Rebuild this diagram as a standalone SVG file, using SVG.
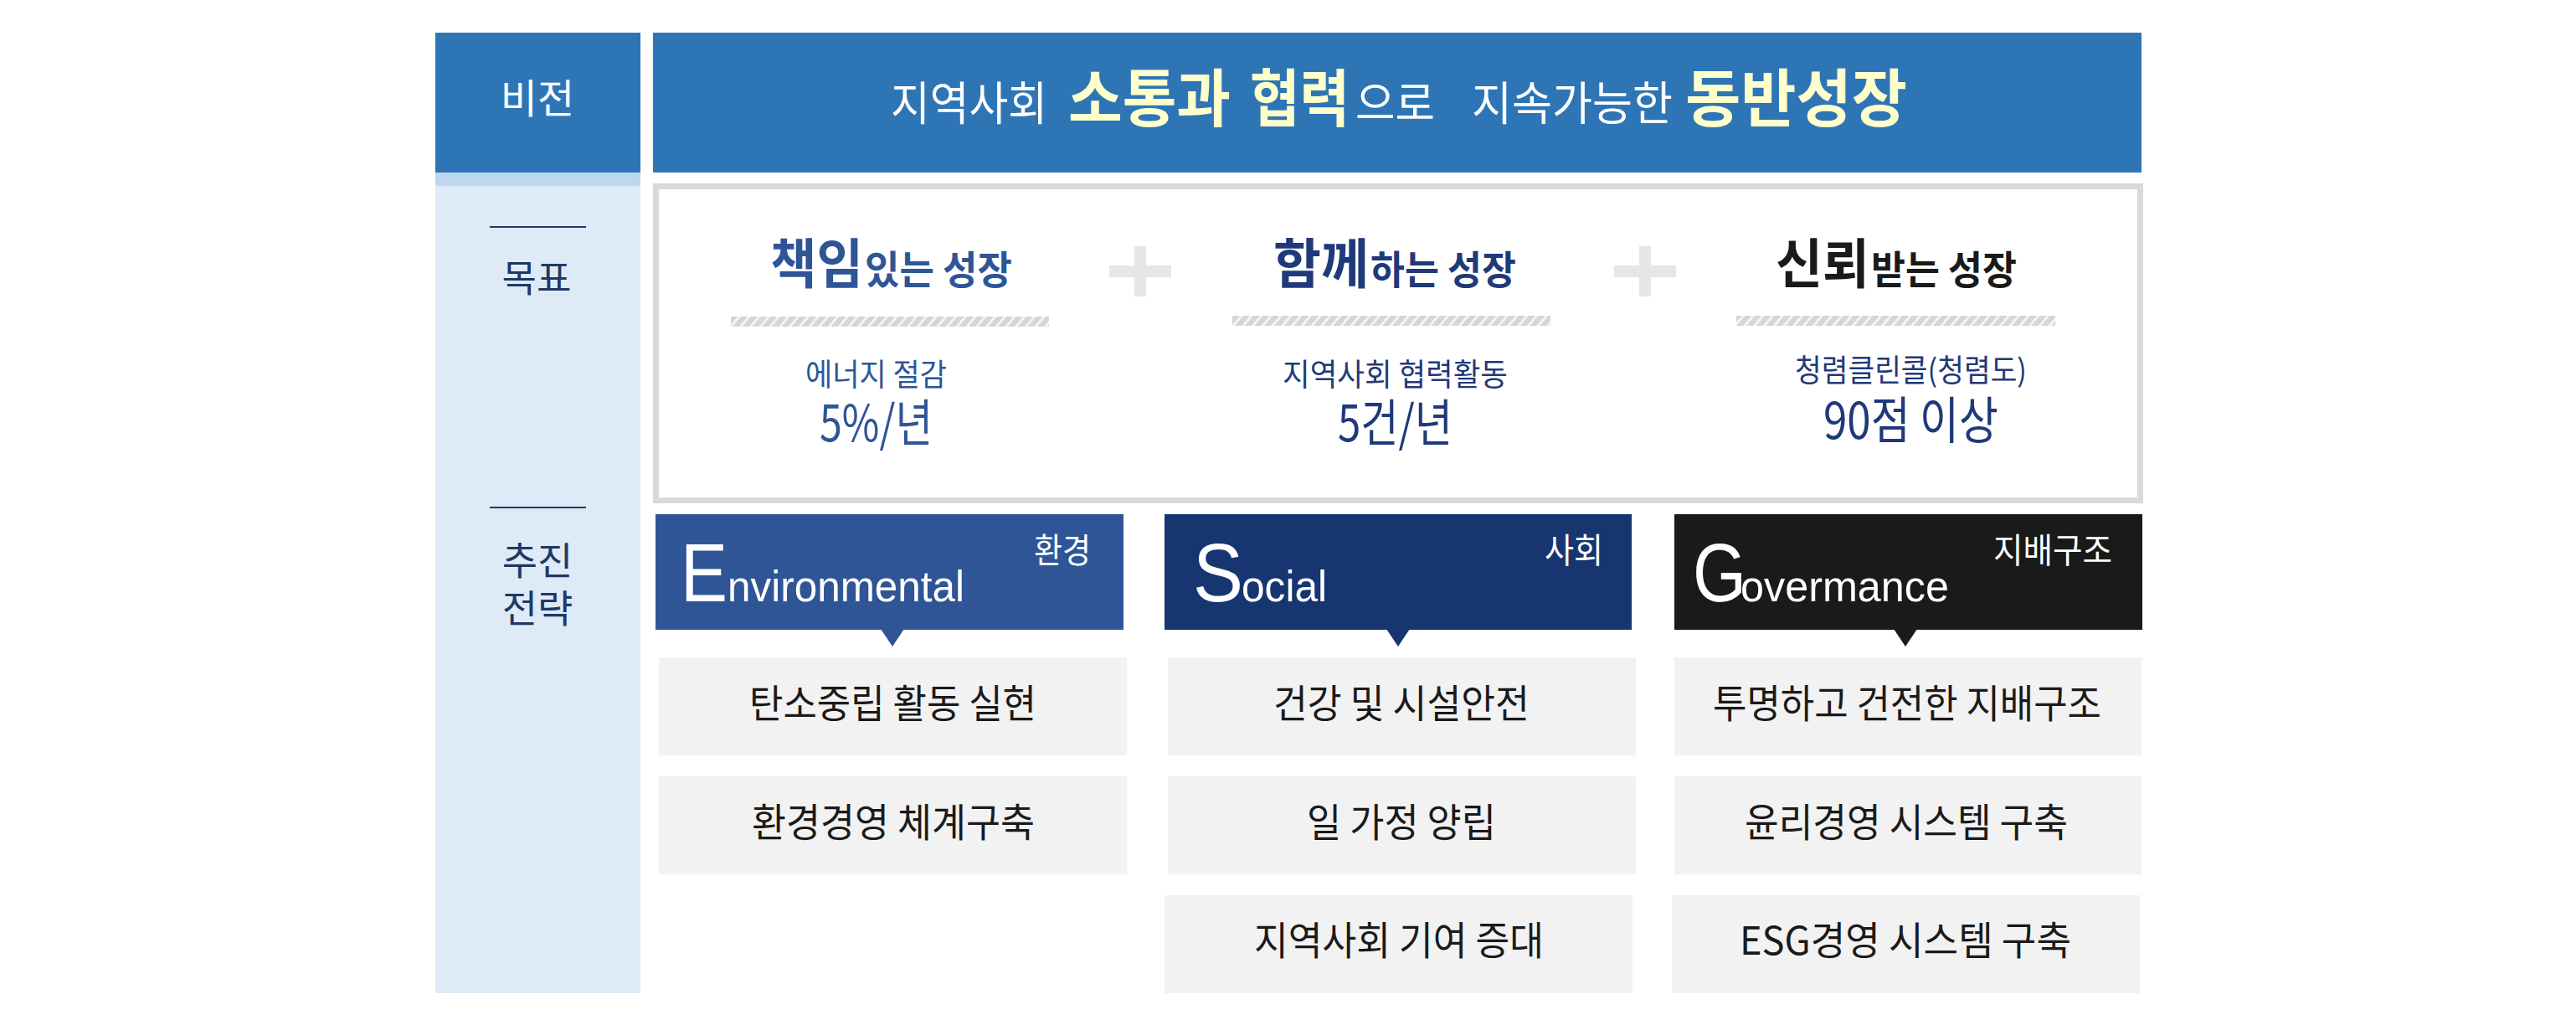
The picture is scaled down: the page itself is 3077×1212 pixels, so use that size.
<svg xmlns="http://www.w3.org/2000/svg" width="3077" height="1212" viewBox="0 0 3077 1212">
<style>
text{font-family:"Noto Sans CJK KR","Noto Sans",sans-serif;}
.lat{font-family:"Liberation Sans",Arial,sans-serif;}
.b{font-weight:700;}
.w{fill:#FFFFFF;}
.y{fill:#FFFFCC;}
.nv{fill:#203864;}
.blue{fill:#2F5597;}
.dnv{fill:#1F3A7A;}
.blk{fill:#1A1A1A;}
.gbox{fill:#F2F2F2;}
.plus{fill:#E6E6E6;}
.row{font-size:47px;fill:#1A1A1A;}
</style>
<defs>
<pattern id="hatch" width="9" height="9" patternUnits="userSpaceOnUse" patternTransform="rotate(40)">
<rect width="9" height="9" fill="#D6D6D6"/>
<rect x="0" y="0" width="3" height="9" fill="#F4F4F4"/>
</pattern>
</defs>
<rect width="3077" height="1212" fill="#FFFFFF"/>

<g id="side-column">
<rect x="520" y="39" width="245" height="167" fill="#2E75B6"/>
<rect x="520" y="206" width="245" height="16" fill="#BDD7EE"/>
<rect x="520" y="222" width="245" height="964" fill="#DEEBF7"/>
<text x="642" y="135" text-anchor="middle" font-size="48" class="w">비전</text>
<rect x="585" y="270" width="115" height="2" fill="#203864"/>
<text x="641" y="349" text-anchor="middle" font-size="45" class="nv">목표</text>
<rect x="585" y="605" width="115" height="2" fill="#203864"/>
<text x="642" y="686" text-anchor="middle" font-size="46" class="nv">추진</text>
<text x="642" y="743" text-anchor="middle" font-size="46" class="nv">전략</text>
</g>

<g id="vision">
<rect x="780" y="39" width="1778" height="167" fill="#2E75B6"/>
<text x="1064" y="143" font-size="55" class="w" textLength="187" lengthAdjust="spacingAndGlyphs">지역사회</text>
<text x="1276" y="145" font-size="75" class="b y" textLength="194" lengthAdjust="spacingAndGlyphs">소통과</text>
<text x="1493" y="145" font-size="75" class="b y" textLength="119" lengthAdjust="spacingAndGlyphs">협력</text>
<text x="1619" y="143" font-size="55" class="w" textLength="95" lengthAdjust="spacingAndGlyphs">으로</text>
<text x="1758" y="143" font-size="55" class="w" textLength="240" lengthAdjust="spacingAndGlyphs">지속가능한</text>
<text x="2013" y="145" font-size="75" class="b y" textLength="265" lengthAdjust="spacingAndGlyphs">동반성장</text>
</g>

<g id="goals">
<rect x="783.5" y="222.5" width="1773" height="375" fill="#FFFFFF" stroke="#D9D9D9" stroke-width="7"/>
<g id="goal-responsible">
<text x="920" y="338" font-size="64" class="b blue" textLength="111" lengthAdjust="spacingAndGlyphs">책임</text>
<text x="1033" y="339" font-size="47" class="b blue" textLength="176" lengthAdjust="spacingAndGlyphs">있는 성장</text>
<rect x="873" y="378" width="380" height="12" fill="url(#hatch)"/>
<text x="962" y="461" font-size="37" class="blue" textLength="169" lengthAdjust="spacingAndGlyphs">에너지 절감</text>
<text x="979" y="527" font-size="60" class="blue" textLength="135" lengthAdjust="spacingAndGlyphs">5%/년</text>
</g>
<g id="plus-1">
<rect x="1325" y="317" width="74" height="14" class="plus"/>
<rect x="1355" y="294" width="14" height="60" class="plus"/>
</g>
<g id="goal-together">
<text x="1521" y="338" font-size="64" class="b dnv" textLength="114" lengthAdjust="spacingAndGlyphs">함께</text>
<text x="1637" y="339" font-size="47" class="b dnv" textLength="174" lengthAdjust="spacingAndGlyphs">하는 성장</text>
<rect x="1472" y="377" width="380" height="12" fill="url(#hatch)"/>
<text x="1532" y="461" font-size="37" class="dnv" textLength="269" lengthAdjust="spacingAndGlyphs">지역사회 협력활동</text>
<text x="1598" y="527" font-size="60" class="dnv" textLength="137" lengthAdjust="spacingAndGlyphs">5건/년</text>
</g>
<g id="plus-2">
<rect x="1928" y="317" width="74" height="14" class="plus"/>
<rect x="1958" y="294" width="14" height="60" class="plus"/>
</g>
<g id="goal-trusted">
<text x="2121" y="338" font-size="64" class="b blk" textLength="112" lengthAdjust="spacingAndGlyphs">신뢰</text>
<text x="2235" y="339" font-size="47" class="b blk" textLength="174" lengthAdjust="spacingAndGlyphs">받는 성장</text>
<rect x="2074" y="377" width="381" height="12" fill="url(#hatch)"/>
<text x="2144" y="456" font-size="37" class="dnv" textLength="277" lengthAdjust="spacingAndGlyphs">청렴클린콜(청렴도)</text>
<text x="2178" y="524" font-size="60" class="dnv" textLength="209" lengthAdjust="spacingAndGlyphs">90점 이상</text>
</g>
</g>

<g id="strategy-E">
<rect x="783" y="614" width="559" height="138" fill="#2F5597"/>
<polygon points="1052,751 1080,751 1066,772" fill="#2F5597"/>
<text x="813" y="718" font-size="99" class="lat w" textLength="56" lengthAdjust="spacingAndGlyphs">E</text>
<text x="869" y="718" font-size="52" class="lat w" textLength="283" lengthAdjust="spacingAndGlyphs">nvironmental</text>
<text x="1235" y="672" font-size="41" class="w" textLength="68" lengthAdjust="spacingAndGlyphs">환경</text>
</g>
<g id="strategy-S">
<rect x="1391" y="614" width="558" height="138" fill="#173671"/>
<polygon points="1656,751 1684,751 1670,772" fill="#173671"/>
<text x="1425" y="718" font-size="99" class="lat w" textLength="60" lengthAdjust="spacingAndGlyphs">S</text>
<text x="1483" y="718" font-size="52" class="lat w" textLength="102" lengthAdjust="spacingAndGlyphs">ocial</text>
<text x="1845" y="672" font-size="41" class="w" textLength="70" lengthAdjust="spacingAndGlyphs">사회</text>
</g>
<g id="strategy-G">
<rect x="2000" y="614" width="559" height="138" fill="#1A1A1A"/>
<polygon points="2262,751 2290,751 2276,772" fill="#1A1A1A"/>
<text x="2022" y="718" font-size="99" class="lat w" textLength="64" lengthAdjust="spacingAndGlyphs">G</text>
<text x="2079" y="718" font-size="52" class="lat w" textLength="249" lengthAdjust="spacingAndGlyphs">overmance</text>
<text x="2381" y="672" font-size="41" class="w" textLength="142" lengthAdjust="spacingAndGlyphs">지배구조</text>
</g>

<g id="items-E">
<g id="e1"><rect x="787" y="785" width="559" height="117" class="gbox"/>
<text x="895" y="857" class="row" textLength="343" lengthAdjust="spacingAndGlyphs">탄소중립 활동 실현</text></g>
<g id="e2"><rect x="787" y="927" width="559" height="117" class="gbox"/>
<text x="898" y="999" class="row" textLength="338" lengthAdjust="spacingAndGlyphs">환경경영 체계구축</text></g>
</g>
<g id="items-S">
<g id="s1"><rect x="1395" y="785" width="559" height="117" class="gbox"/>
<text x="1521" y="857" class="row" textLength="306" lengthAdjust="spacingAndGlyphs">건강 및 시설안전</text></g>
<g id="s2"><rect x="1395" y="927" width="559" height="117" class="gbox"/>
<text x="1561" y="999" class="row" textLength="226" lengthAdjust="spacingAndGlyphs">일 가정 양립</text></g>
<g id="s3"><rect x="1391" y="1069" width="559" height="117" class="gbox"/>
<text x="1498" y="1140" class="row" textLength="346" lengthAdjust="spacingAndGlyphs">지역사회 기여 증대</text></g>
</g>
<g id="items-G">
<g id="g1"><rect x="2000" y="785" width="558" height="117" class="gbox"/>
<text x="2046" y="857" class="row" textLength="464" lengthAdjust="spacingAndGlyphs">투명하고 건전한 지배구조</text></g>
<g id="g2"><rect x="2000" y="927" width="558" height="117" class="gbox"/>
<text x="2084" y="999" class="row" textLength="386" lengthAdjust="spacingAndGlyphs">윤리경영 시스템 구축</text></g>
<g id="g3"><rect x="1997" y="1069" width="559" height="117" class="gbox"/>
<text x="2078" y="1140" class="row" textLength="396" lengthAdjust="spacingAndGlyphs">ESG경영 시스템 구축</text></g>
</g>
<g id="connectors"></g>
</svg>
